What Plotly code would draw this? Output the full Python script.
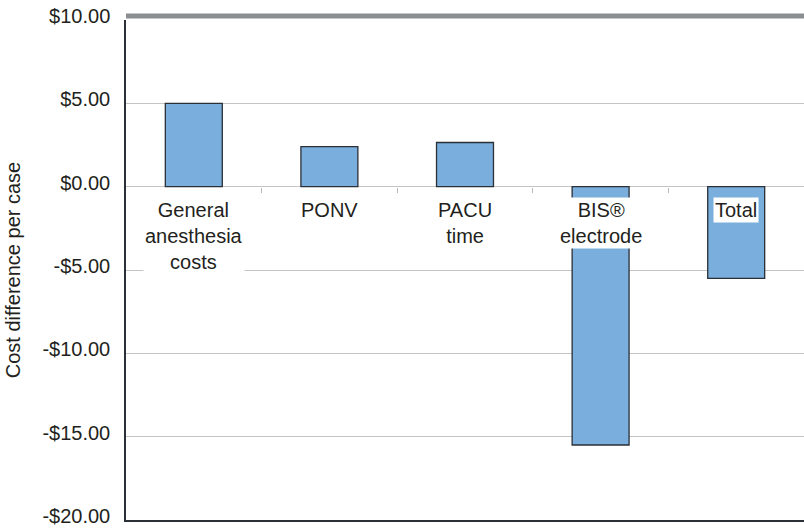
import plotly.graph_objects as go

# 数据
categories = ["General<br>anesthesia<br>costs", "PONV", "PACU<br>time", "BIS®<br>electrode", "Total"]
cost_diff = [5.0, 2.4, 2.65, -15.5, -5.5]
tick_vals = [10, 5, 0, -5, -10, -15, -20]
tick_text = ["$10.00", "$5.00", "$0.00", "-$5.00", "-$10.00", "-$15.00", "-$20.00"]
boundaries = [0.5, 1.5, 2.5, 3.5]

FONT = "Liberation Sans, Arial"

fig = go.Figure()
fig.add_trace(go.Bar(
    x=categories,
    y=cost_diff,
    marker=dict(color="#7aaedd", line=dict(color="#2b2f36", width=1.3)),
    showlegend=False,
    hoverinfo="y",
))
# 让零线上的小刻度轴显示出来
fig.add_trace(go.Scatter(x=[None], y=[None], xaxis="x2", showlegend=False, hoverinfo="skip"))

# 类别标签放在零线下方，白底
for c in categories:
    fig.add_annotation(
        x=c, y=0, xref="x", yref="y",
        text=c, showarrow=False,
        yanchor="top", yshift=-10,
        bgcolor="white", borderpad=1,
        font=dict(family=FONT, size=20, color="#231f20"),
    )

fig.update_layout(
    width=804, height=528,
    margin=dict(l=126, r=0, t=20, b=8),
    paper_bgcolor="white",
    plot_bgcolor="white",
    bargap=0.58,
    font=dict(family=FONT, size=20, color="#231f20"),
    xaxis=dict(
        showticklabels=False, showgrid=False,
        showline=True, linecolor="#2b2f36", linewidth=1.5,
        ticks="",
    ),
    xaxis2=dict(
        overlaying="x", anchor="free", position=20 / 30,
        range=[-0.5, 4.5], showgrid=False, showline=False,
        tickvals=boundaries, ticks="outside", ticklen=5,
        tickcolor="#b8b8b8", showticklabels=False, zeroline=False,
    ),
    yaxis=dict(
        range=[-20, 10], automargin=False,
        tickvals=tick_vals, ticktext=tick_text,
        showgrid=True, gridcolor="#c4c4c4", gridwidth=1,
        zeroline=True, zerolinecolor="#c4c4c4", zerolinewidth=1,
        showline=True, linecolor="#2b2f36", linewidth=1.5,
        ticks="", ticklabelstandoff=10, ticklabeloverflow="allow",
        ticklabelshift=-4,
        tickfont=dict(size=20),
        title=dict(text="Cost difference per case", font=dict(size=20), standoff=16),
    ),
)

# 顶部粗灰线（略高于 $10 网格线）
fig.add_shape(type="line", xref="paper", yref="paper", ysizemode="pixel", yanchor=1,
              x0=0, x1=1, y0=4, y1=4,
              line=dict(color="#8c8d91", width=5), layer="above")

fig.write_html("out.html", config={"displayModeBar": False},
               post_script="document.body.style.margin='0';")
